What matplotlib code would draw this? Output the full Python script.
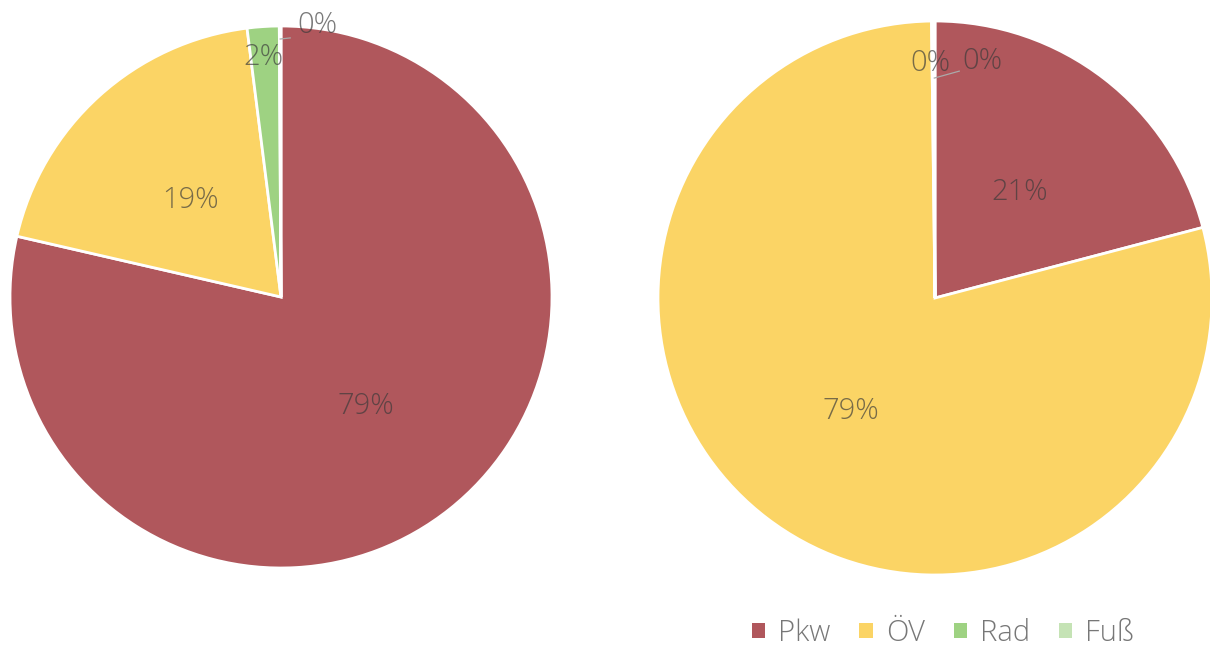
import numpy as np
import matplotlib.pyplot as plt
from matplotlib.patches import Patch

plt.rcParams['font.family'] = ['Open Sans', 'DejaVu Sans']

modes = ["Pkw", "ÖV", "Rad", "Fuß"]
colors = ["#B0575C", "#FBD465", "#9ED282", "#C5E3B5"]
left_share = [78.6, 19.4, 1.9, 0.1]
right_share = [20.9, 78.9, 0.1, 0.1]

W, H = 1210, 648
fig = plt.figure(figsize=(W / 100, H / 100), dpi=100)

text_kw = dict(color="#3a3a3a", alpha=0.68, fontsize=21, fontweight="light")


def draw_pie(rect, values, small):
    ax = fig.add_axes(rect)
    wedges, _ = ax.pie(values, colors=colors, startangle=90, counterclock=False,
                       wedgeprops=dict(edgecolor="white", linewidth=2))
    ax.set_xlim(-1, 1)
    ax.set_ylim(-1, 1)
    ax.set_aspect("equal")
    ax.axis("off")
    total = sum(values)
    for w, v, opt in zip(wedges, values, small):
        mid = np.deg2rad((w.theta1 + w.theta2) / 2)
        pct = "%d%%" % round(v / total * 100)
        if opt is None:
            # big slices: label half way out
            ax.text(0.5 * np.cos(mid), 0.5 * np.sin(mid), pct,
                    ha="center", va="center_baseline", **text_kw)
        elif opt[0] == "in":
            _, r, dx = opt
            ax.text(r * np.cos(mid) + dx, r * np.sin(mid), pct,
                    ha="center", va="center_baseline", **text_kw)
        else:
            # tiny slice: short leader line, label to the right
            _, r, ldx, ldy, tdx, tdy = opt
            x0, y0 = r * np.cos(mid), r * np.sin(mid)
            ax.plot([x0, x0 + ldx], [y0, y0 + ldy], color="#aaaaaa", lw=0.9)
            ax.text(x0 + ldx + tdx, y0 + ldy + tdy, pct,
                    ha="left", va="baseline", **text_kw)
    return ax


# left pie: centre (281, 297), radius 271
r1 = 271
draw_pie([(281 - r1) / W, (H - 297 - r1) / H, 2 * r1 / W, 2 * r1 / H], left_share,
         [None, None, ("in", 0.9, -0.005), ("lead", 0.952, 0.037, 0.004, 0.025, 0.019)])

# right pie: centre (935, 298), radius 277
r2 = 277
draw_pie([(935 - r2) / W, (H - 298 - r2) / H, 2 * r2 / W, 2 * r2 / H], right_share,
         [None, None, ("in", 0.86, -0.01), ("lead", 0.794, 0.09, 0.025, 0.01, 0.008)])

handles = [Patch(facecolor=c, edgecolor="none", label=m) for m, c in zip(modes, colors)]
fig.legend(handles=handles, loc="center", bbox_to_anchor=(943 / W, 1 - 633 / H),
           ncol=4, frameon=False, handlelength=0.45, handleheight=0.45,
           handletextpad=0.45, columnspacing=1.0, labelcolor="#777777",
           prop=dict(family=["Open Sans", "DejaVu Sans"], weight="light", size=21))

fig.savefig("out.png", dpi=100, facecolor="white")
